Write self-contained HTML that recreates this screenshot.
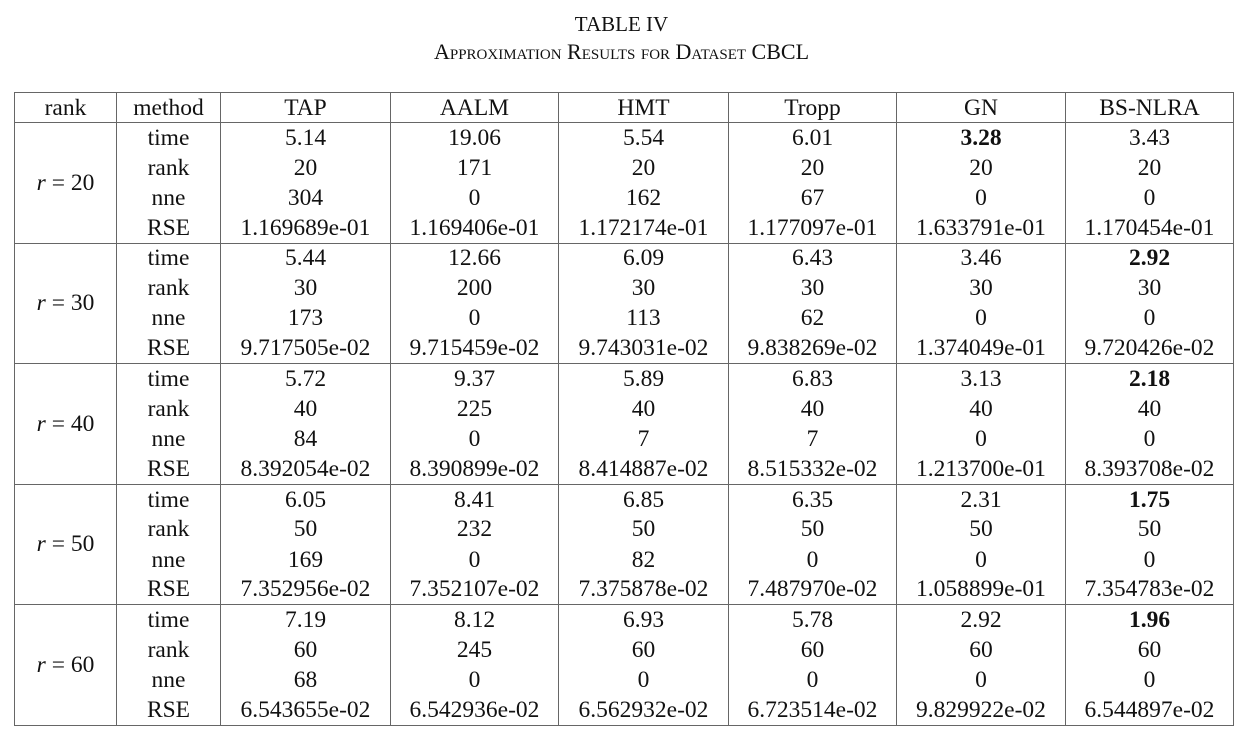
<!DOCTYPE html>
<html><head><meta charset="utf-8"><style>
body{margin:0;width:1243px;height:739px;background:#fff;font-family:"Liberation Serif",serif;color:#111;position:relative;overflow:hidden}
.t1{position:absolute;top:12px;left:0;width:1243px;text-align:center;font-size:21px}
.t2{position:absolute;top:39px;left:0;width:1243px;text-align:center;font-size:22px;font-variant:small-caps}
table{position:absolute;left:14px;top:92px;border-collapse:collapse;font-size:23.5px;table-layout:fixed}
td{border-left:1.5px solid #666;border-right:1.5px solid #666;text-align:center;padding:0;height:30.15px;line-height:28px;white-space:nowrap;box-sizing:border-box}
tr.h td{border-top:1.5px solid #666;border-bottom:1.5px solid #666;height:30px}
tr.g td{border-top:1.5px solid #666}
tr.last td{border-bottom:1.5px solid #666}
td.r{font-style:italic}
td.r span{font-style:normal}
b{font-weight:bold}
</style></head><body>
<div class="t1">TABLE IV</div>
<div class="t2">Approximation Results for Dataset CBCL</div>
<table>
<colgroup><col style="width:102px"><col style="width:104px"><col style="width:170px"><col style="width:168px"><col style="width:170px"><col style="width:168px"><col style="width:169px"><col style="width:168px"></colgroup>
<tr class="h"><td>rank</td><td>method</td><td>TAP</td><td>AALM</td><td>HMT</td><td>Tropp</td><td>GN</td><td>BS-NLRA</td></tr>
<tr class="g"><td rowspan="4" class="r">r <span>= 20</span></td><td>time</td><td>5.14</td><td>19.06</td><td>5.54</td><td>6.01</td><td><b>3.28</b></td><td>3.43</td></tr>
<tr><td>rank</td><td>20</td><td>171</td><td>20</td><td>20</td><td>20</td><td>20</td></tr>
<tr><td>nne</td><td>304</td><td>0</td><td>162</td><td>67</td><td>0</td><td>0</td></tr>
<tr><td>RSE</td><td>1.169689e-01</td><td>1.169406e-01</td><td>1.172174e-01</td><td>1.177097e-01</td><td>1.633791e-01</td><td>1.170454e-01</td></tr>
<tr class="g"><td rowspan="4" class="r">r <span>= 30</span></td><td>time</td><td>5.44</td><td>12.66</td><td>6.09</td><td>6.43</td><td>3.46</td><td><b>2.92</b></td></tr>
<tr><td>rank</td><td>30</td><td>200</td><td>30</td><td>30</td><td>30</td><td>30</td></tr>
<tr><td>nne</td><td>173</td><td>0</td><td>113</td><td>62</td><td>0</td><td>0</td></tr>
<tr><td>RSE</td><td>9.717505e-02</td><td>9.715459e-02</td><td>9.743031e-02</td><td>9.838269e-02</td><td>1.374049e-01</td><td>9.720426e-02</td></tr>
<tr class="g"><td rowspan="4" class="r">r <span>= 40</span></td><td>time</td><td>5.72</td><td>9.37</td><td>5.89</td><td>6.83</td><td>3.13</td><td><b>2.18</b></td></tr>
<tr><td>rank</td><td>40</td><td>225</td><td>40</td><td>40</td><td>40</td><td>40</td></tr>
<tr><td>nne</td><td>84</td><td>0</td><td>7</td><td>7</td><td>0</td><td>0</td></tr>
<tr><td>RSE</td><td>8.392054e-02</td><td>8.390899e-02</td><td>8.414887e-02</td><td>8.515332e-02</td><td>1.213700e-01</td><td>8.393708e-02</td></tr>
<tr class="g"><td rowspan="4" class="r">r <span>= 50</span></td><td>time</td><td>6.05</td><td>8.41</td><td>6.85</td><td>6.35</td><td>2.31</td><td><b>1.75</b></td></tr>
<tr><td>rank</td><td>50</td><td>232</td><td>50</td><td>50</td><td>50</td><td>50</td></tr>
<tr><td>nne</td><td>169</td><td>0</td><td>82</td><td>0</td><td>0</td><td>0</td></tr>
<tr><td>RSE</td><td>7.352956e-02</td><td>7.352107e-02</td><td>7.375878e-02</td><td>7.487970e-02</td><td>1.058899e-01</td><td>7.354783e-02</td></tr>
<tr class="g"><td rowspan="4" class="r" style="border-bottom:1.5px solid #666">r <span>= 60</span></td><td>time</td><td>7.19</td><td>8.12</td><td>6.93</td><td>5.78</td><td>2.92</td><td><b>1.96</b></td></tr>
<tr><td>rank</td><td>60</td><td>245</td><td>60</td><td>60</td><td>60</td><td>60</td></tr>
<tr><td>nne</td><td>68</td><td>0</td><td>0</td><td>0</td><td>0</td><td>0</td></tr>
<tr class="last"><td>RSE</td><td>6.543655e-02</td><td>6.542936e-02</td><td>6.562932e-02</td><td>6.723514e-02</td><td>9.829922e-02</td><td>6.544897e-02</td></tr>
</table>
</body></html>
